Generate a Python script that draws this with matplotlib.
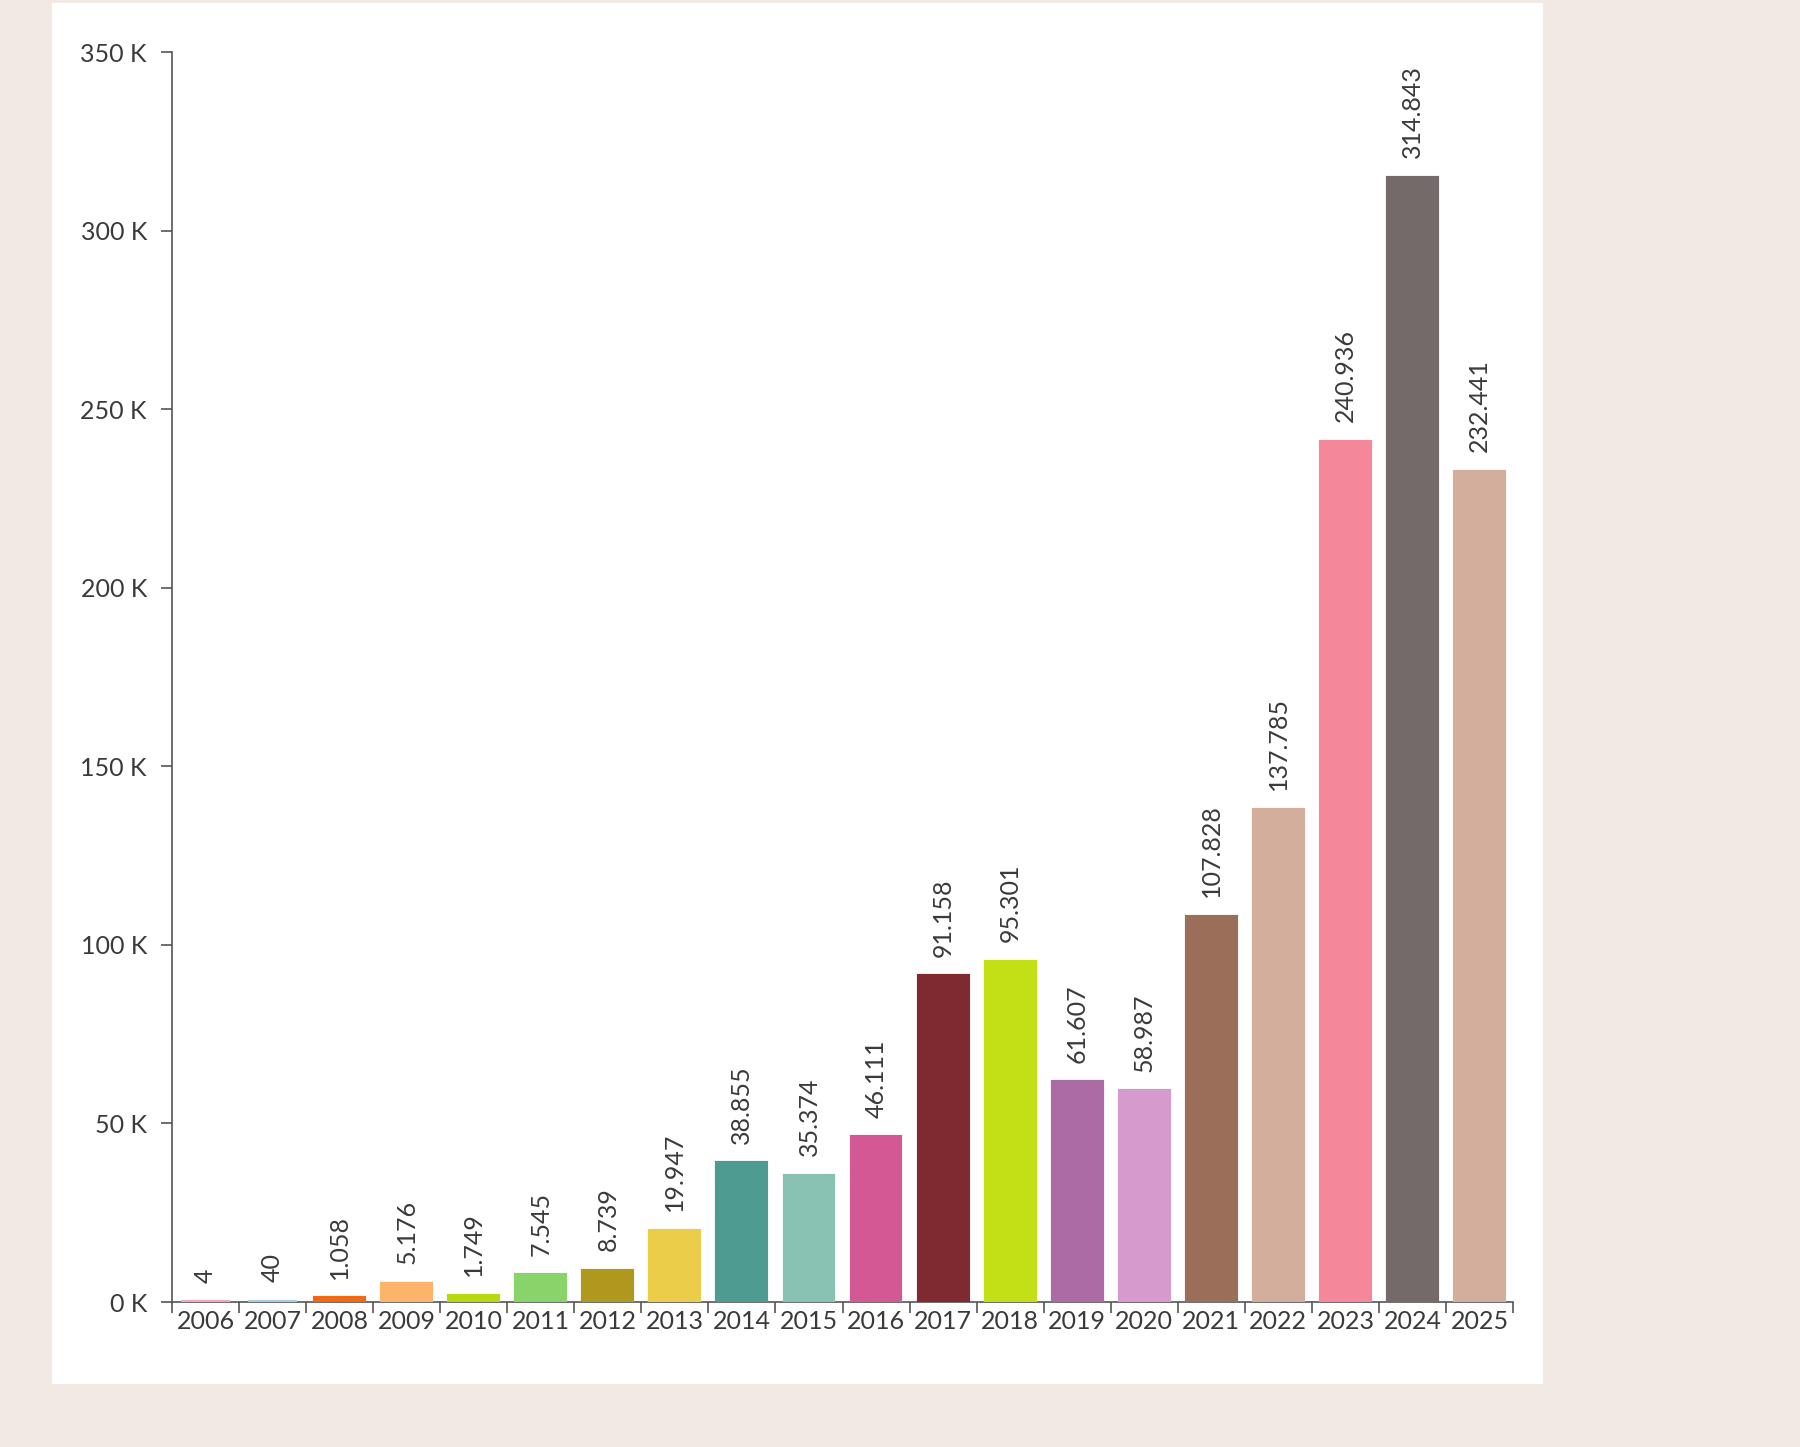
import matplotlib.pyplot as plt
from matplotlib.patches import Rectangle
from matplotlib.ticker import FuncFormatter, FixedLocator

# datos
years = ["2006", "2007", "2008", "2009", "2010", "2011", "2012", "2013", "2014", "2015",
         "2016", "2017", "2018", "2019", "2020", "2021", "2022", "2023", "2024", "2025"]
values = [4, 40, 1058, 5176, 1749, 7545, 8739, 19947, 38855, 35374,
          46111, 91158, 95301, 61607, 58987, 107828, 137785, 240936, 314843, 232441]
labels = ["4", "40", "1.058", "5.176", "1.749", "7.545", "8.739", "19.947", "38.855", "35.374",
          "46.111", "91.158", "95.301", "61.607", "58.987", "107.828", "137.785", "240.936",
          "314.843", "232.441"]
colors = ["#f4a6c8", "#a6cee3", "#ef6a12", "#fbb46a", "#b6d90f", "#88d36a", "#b0981f",
          "#ebcd4a", "#4e9b92", "#89c2b2", "#d45894", "#7f2a31", "#c2e015", "#ad6ba6",
          "#d69acc", "#9a6e58", "#d4ae9c", "#f48799", "#736a69", "#d4ae9c"]

plt.rcParams['font.family'] = ['Lato', 'DejaVu Sans']
txt = "#3a3a3a"

fig = plt.figure(figsize=(18, 14.47), dpi=100)
fig.patch.set_facecolor("#f2e9e4")
fig.patches.append(Rectangle((52 / 1800, 1 - 1384 / 1447), (1543 - 52) / 1800, (1384 - 3) / 1447,
                             transform=fig.transFigure, facecolor="white", edgecolor="none",
                             zorder=-10))

ax = fig.add_axes([172 / 1800, 1 - 1302 / 1447, (1513 - 172) / 1800, (1302 - 52) / 1447])
ax.set_facecolor("none")

x = list(range(len(years)))
ax.bar(x, values, width=0.73, color=colors, edgecolor=colors, linewidth=3, zorder=3)

for xi, v, lab in zip(x, values, labels):
    ax.annotate(lab, (xi, v), xytext=(0, 14), textcoords="offset points",
                rotation=90, ha="center", va="bottom", fontsize=18, color=txt)

ax.set_xlim(-0.5, len(years) - 0.5)
ax.set_ylim(0, 350000)
ax.set_yticks(range(0, 350001, 50000))
ax.yaxis.set_major_formatter(FuncFormatter(lambda v, p: f"{int(v / 1000)} K"))

ax.xaxis.set_major_locator(FixedLocator([i - 0.5 for i in range(len(years) + 1)]))
ax.xaxis.set_major_formatter(FuncFormatter(lambda v, p: ""))
ax.xaxis.set_minor_locator(FixedLocator(x))
ax.set_xticklabels(years, minor=True)

ax.tick_params(axis="x", which="major", length=8, width=1.2, color="#555555", direction="out")
ax.tick_params(axis="x", which="minor", length=0, pad=6, labelsize=18, labelcolor=txt)
ax.tick_params(axis="y", length=8, width=1.2, color="#555555", pad=10, labelsize=18, labelcolor=txt)

for s in ["top", "right"]:
    ax.spines[s].set_visible(False)
for s in ["left", "bottom"]:
    ax.spines[s].set_color("#555555")
    ax.spines[s].set_linewidth(1.2)
    ax.spines[s].set_zorder(2)

fig.savefig("out.png", dpi=100, facecolor=fig.get_facecolor())
